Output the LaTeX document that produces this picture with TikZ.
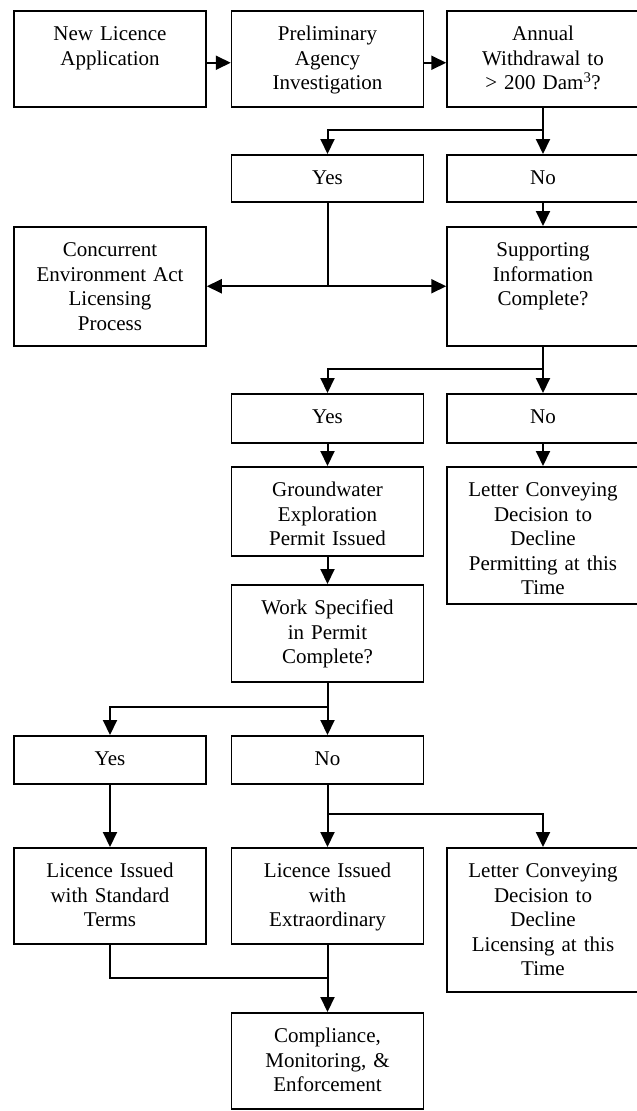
\documentclass[tikz,border=0pt]{standalone}
\usepackage{fontspec}
\setmainfont{Liberation Serif}
\usetikzlibrary{arrows.meta}

\begin{document}
\begin{tikzpicture}[x=1pt, y=-1pt, >={Triangle[width=14pt, length=15pt]},
  flowbox/.style={draw, line width=1.5pt, anchor=north, inner sep=0pt, minimum width=192pt,
    text width=185pt, align=center, text height=30pt, text depth=#1,
    font=\fontsize{21}{24.5}\selectfont},
  link/.style={line width=2pt}]
  \useasboundingbox (0,0) rectangle (637,1111);
  % top row
  \node[flowbox=66pt] (newlic) at (110,10) {New Licence\\Application};
  \node[flowbox=66pt] (prelim) at (327.5,10) {Preliminary\\Agency\\Investigation};
  \node[flowbox=66pt] (annual) at (543,10) {Annual\\Withdrawal to\\> 200 Dam\textsuperscript{3}?};
  \node[flowbox=17pt] (yes1) at (327.5,154) {Yes};
  \node[flowbox=17pt] (no1) at (543,154) {No};
  \node[flowbox=89pt] (conc) at (110,226) {Concurrent\\Environment Act\\Licensing\\Process};
  \node[flowbox=89pt] (supp) at (543,226) {Supporting\\Information\\Complete?};
  \node[flowbox=19pt] (yes2) at (327.5,393) {Yes};
  \node[flowbox=19pt] (no2) at (543,393) {No};
  \node[flowbox=59pt] (ground) at (327.5,466) {Groundwater\\Exploration\\Permit Issued};
  \node[flowbox=107pt] (letter1) at (543,466) {Letter Conveying\\Decision to\\Decline\\Permitting at this\\Time};
  \node[flowbox=67pt] (work) at (327.5,584) {Work Specified\\in Permit\\Complete?};
  \node[flowbox=18pt] (yes3) at (110,735) {Yes};
  \node[flowbox=18pt] (no3) at (327.5,735) {No};
  \node[flowbox=66pt] (licstd) at (110,847) {Licence Issued\\with Standard\\Terms};
  \node[flowbox=66pt] (licext) at (327.5,847) {Licence Issued\\with\\Extraordinary};
  \node[flowbox=114pt] (letter2) at (543,847) {Letter Conveying\\Decision to\\Decline\\Licensing at this\\Time};
  \node[flowbox=66pt] (comp) at (327.5,1012) {Compliance,\\Monitoring, \&\\Enforcement};

  % branch points
  \coordinate (s1) at (543,130);
  \coordinate (j1) at (yes1 |- conc);
  \coordinate (s2) at (543,369);
  \coordinate (s3) at (327.5,707);
  \coordinate (s4) at (327.5,814);
  \coordinate (m1) at (327.5,978);

  \draw[link, ->] ([yshift=-4pt]newlic.east) -- ([yshift=-4pt]prelim.west);
  \draw[link, ->] ([yshift=-4pt]prelim.east) -- ([yshift=-4pt]annual.west);
  \draw[link, ->] (annual) -- (no1);
  \draw[link, ->] (s1) -| (yes1);
  \draw[link] (yes1) -- (j1);
  \draw[link, ->] (j1) -- (conc);
  \draw[link, ->] (j1) -- (supp);
  \draw[link, ->] (no1) -- (supp);
  \draw[link, ->] (supp) -- (no2);
  \draw[link, ->] (s2) -| (yes2);
  \draw[link, ->] (yes2) -- (ground);
  \draw[link, ->] (no2) -- (letter1);
  \draw[link, ->] (ground) -- (work);
  \draw[link, ->] (work) -- (no3);
  \draw[link, ->] (s3) -| (yes3);
  \draw[link, ->] (yes3) -- (licstd);
  \draw[link, ->] (no3) -- (licext);
  \draw[link, ->] (s4) -| (letter2);
  \draw[link] (licstd) |- (m1);
  \draw[link, ->] (licext) -- (comp);
\end{tikzpicture}
\end{document}
